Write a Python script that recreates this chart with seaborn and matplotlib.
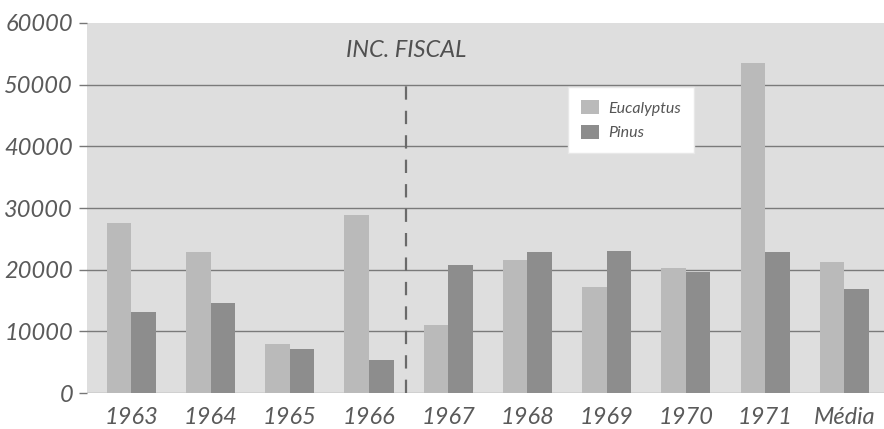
import matplotlib
matplotlib.use("Agg")
import matplotlib.pyplot as plt
import seaborn as sns
import pandas as pd

# Production per year, by genus
years = ["1963", "1964", "1965", "1966", "1967", "1968", "1969", "1970", "1971", "Média"]
eucalyptus = [27600, 22800, 7950, 28800, 11000, 21550, 17250, 20300, 53550, 21300]
pinus = [13150, 14550, 7200, 5350, 20750, 22800, 23050, 19550, 22900, 16850]
series_names = ["Eucalyptus", "Pinus"]
y_ticks = [0, 10000, 20000, 30000, 40000, 50000, 60000]
marker_label = "INC. FISCAL"

df = pd.DataFrame({
    "ano": years * 2,
    "valor": eucalyptus + pinus,
    "genero": [series_names[0]] * len(years) + [series_names[1]] * len(years),
})

sns.set_theme(style="white")
plt.rcParams["font.family"] = ["Lato", "DejaVu Sans"]

fig = plt.figure(figsize=(8.84, 4.29), dpi=100)
ax = fig.add_axes([0.0984, 0.0839, 0.9016, 0.8625])
ax.set_facecolor("#dedede")

palette = {"Eucalyptus": "#bababa", "Pinus": "#8d8d8d"}
sns.barplot(data=df, x="ano", y="valor", hue="genero", palette=palette,
            width=0.62, gap=0, saturation=1, edgecolor="none", ax=ax, zorder=3)

ax.set_ylim(0, 60000)
ax.set_xlim(-0.56, 9.5)
ax.set_yticks(y_ticks)
ax.set_yticklabels([str(v) for v in y_ticks])
for v in y_ticks[1:-1]:
    ax.axhline(v, color="#7a7a7a", lw=1.0, zorder=1)
ax.axhline(0, color="#9a9a9a", lw=1.0, zorder=1)

for s in ax.spines.values():
    s.set_visible(False)

ax.tick_params(axis="y", which="both", left=True, length=6, width=1,
               color="#777777", pad=4, labelsize=17, labelcolor="#5a5a5a")
ax.tick_params(axis="x", bottom=False, pad=4, labelsize=17, labelcolor="#5a5a5a")
for lab in ax.get_yticklabels() + ax.get_xticklabels():
    lab.set_fontstyle("italic")
ax.set_xlabel("")
ax.set_ylabel("")

# Fiscal incentive marker between 1966 and 1967
ax.plot([3.47, 3.47], [0, 50600], color="#6a6a6a", lw=1.6,
        linestyle=(0, (6, 5)), zorder=4)
ax.text(3.47, 55500, marker_label, ha="center", va="center", fontsize=17,
        style="italic", color="#505050", zorder=5)

leg = ax.legend(loc="upper left", bbox_to_anchor=(0.604, 0.826), frameon=True,
                fancybox=False, framealpha=1, edgecolor="#e8e8e8",
                prop={"size": 11.5, "style": "italic"},
                handlelength=1.1, handleheight=1.0, handletextpad=0.6,
                borderpad=0.8, labelspacing=0.55, borderaxespad=0)
for t in leg.get_texts():
    t.set_color("#555555")

fig.savefig("out.png", dpi=100)
